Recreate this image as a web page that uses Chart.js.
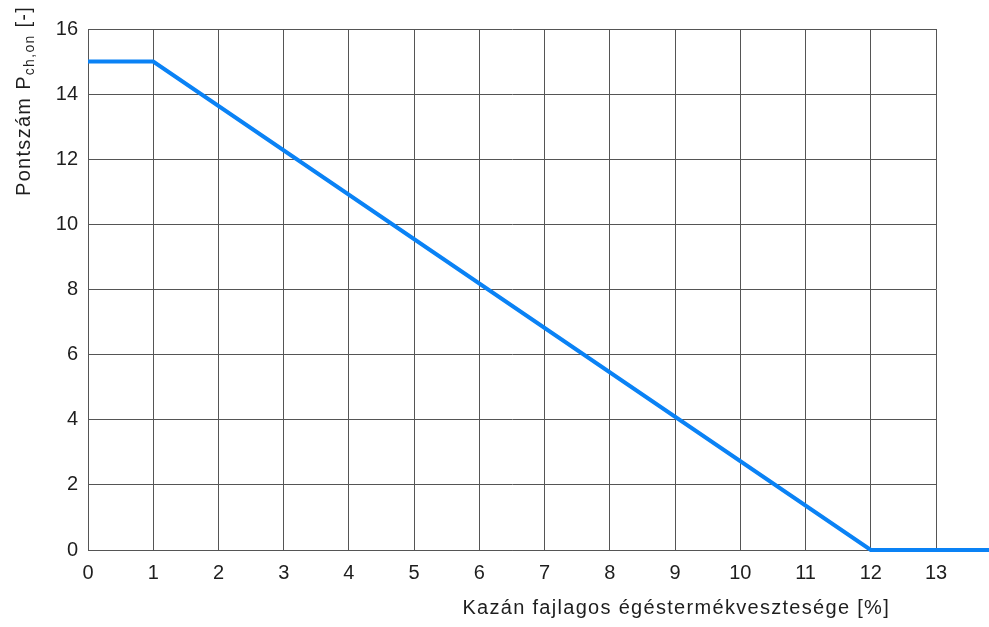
<!DOCTYPE html>
<html>
<head>
<meta charset="utf-8">
<script src="https://cdn.jsdelivr.net/npm/chart.js@4/dist/chart.umd.min.js"></script>
<style>
    html, body { margin: 0; padding: 0; background: #fff; }
    #wrap { width: 989px; height: 627px; }
</style>
</head>
<body>
<div id="wrap"><canvas id="lossChart"></canvas></div>
<script>
// Kazán pontszám görbe
const lossValues = [0, 1, 12, 13.83];
const pointValues = [15, 15, 0, 0];
const xTitle = 'Kazán fajlagos égéstermékvesztesége [%]';
const yTitleMain = 'Pontszám P';
const yTitleSub = 'ch,on';
const yTitleEnd = ' [-]';

const gridColor = '#555555';
const lineColor = '#0a82f5';
const textColor = '#1e1e1e';
const fontFamily = '"Liberation Sans", Arial, sans-serif';

const axisTitles = {
    id: 'axisTitles',
    afterDraw(chart) {
        const ctx = chart.ctx;
        const area = chart.chartArea;
        ctx.save();
        ctx.fillStyle = textColor;
        ctx.textBaseline = 'middle';
        ctx.letterSpacing = '1.3px';

        // x tengely címe
        ctx.font = `20px ${fontFamily}`;
        ctx.textAlign = 'right';
        ctx.fillText(xTitle, area.right - 46, 608);

        // y tengely címe, alsó index
        ctx.translate(24, 196);
        ctx.rotate(-Math.PI / 2);
        ctx.textAlign = 'left';
        ctx.font = `20px ${fontFamily}`;
        ctx.fillText(yTitleMain, 0, 0);
        let w = ctx.measureText(yTitleMain).width;
        ctx.font = `14px ${fontFamily}`;
        ctx.fillText(yTitleSub, w, 6);
        w += ctx.measureText(yTitleSub).width;
        ctx.font = `20px ${fontFamily}`;
        ctx.fillText(yTitleEnd, w, 0);
        ctx.restore();
    }
};

new Chart(document.getElementById('lossChart'), {
    type: 'line',
    data: {
        datasets: [{
            data: lossValues.map((x, i) => ({ x: x, y: pointValues[i] })),
            borderColor: lineColor,
            borderWidth: 4,
            pointRadius: 0,
            tension: 0,
            clip: false
        }]
    },
    options: {
        responsive: true,
        maintainAspectRatio: false,
        animation: false,
        layout: { padding: { left: 0, top: 29, right: 53, bottom: 0 } },
        plugins: {
            legend: { display: false },
            tooltip: { enabled: false }
        },
        scales: {
            x: {
                type: 'linear',
                min: 0,
                max: 13,
                afterFit: (scale) => { scale.height = 77; },
                ticks: {
                    stepSize: 1,
                    padding: 11,
                    color: textColor,
                    font: { family: fontFamily, size: 20 }
                },
                grid: { color: gridColor, lineWidth: 1, drawTicks: false },
                border: { color: gridColor, width: 1 }
            },
            y: {
                min: 0,
                max: 16,
                afterFit: (scale) => { scale.width = 88; },
                ticks: {
                    stepSize: 2,
                    padding: 10,
                    color: textColor,
                    font: { family: fontFamily, size: 20 }
                },
                grid: { color: gridColor, lineWidth: 1, drawTicks: false },
                border: { color: gridColor, width: 1 }
            }
        }
    },
    plugins: [axisTitles]
});
</script>
</body>
</html>
